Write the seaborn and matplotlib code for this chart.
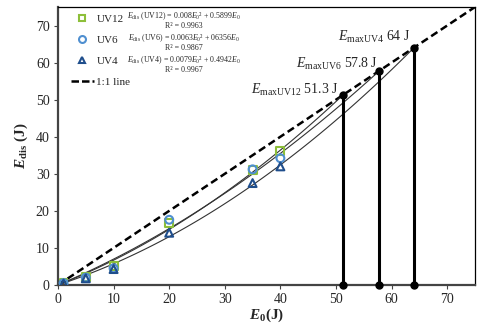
import numpy as np
import pandas as pd
import matplotlib
matplotlib.use("Agg")
import matplotlib.pyplot as plt
import seaborn as sns
from matplotlib.lines import Line2D

# ---- data ----
e0 = [1, 5, 10, 20, 35, 40]
uv12 = [0.6, 2.2, 5.1, 16.7, 31.0, 36.2]
uv6 = [0.5, 2.0, 4.5, 17.6, 31.2, 34.2]
uv4 = [0.4, 1.8, 4.3, 14.1, 27.5, 32.0]
series_names = ["UV12", "UV6", "UV4"]
# quadratic fit coefficients (a, b): Edis = a*E0^2 + b*E0
fit_a = [0.008, 0.0063, 0.0079]
fit_b = [0.5899, 0.6356, 0.4942]
emax = [51.3, 57.8, 64.0]
emax_labels = ["51.3 J", "57.8 J", "64 J"]
eq_texts = [
    r"$E_{\rm dis}$ (UV12) = 0.008$E_0$² + 0.5899$E_0$",
    r"$E_{\rm dis}$ (UV6) = 0.0063$E_0$² + 06356$E_0$",
    r"$E_{\rm dis}$ (UV4) = 0.0079$E_0$² + 0.4942$E_0$",
]
r2_texts = ["R² = 0.9963", "R² = 0.9867", "R² = 0.9967"]
xticks = [0, 10, 20, 30, 40, 50, 60, 70]
yticks = [0, 10, 20, 30, 40, 50, 60, 70]

colors = ["#8DBF3A", "#4F8FD0", "#1F4E8C"]
markers = ["s", "o", "^"]

sns.set_theme(style="white")
plt.rcParams["font.family"] = ["Liberation Serif", "DejaVu Serif"]
plt.rcParams["mathtext.fontset"] = "custom"
plt.rcParams["mathtext.rm"] = "Liberation Serif"
plt.rcParams["mathtext.it"] = "Liberation Serif:italic"
plt.rcParams["mathtext.bf"] = "Liberation Serif:bold"
plt.rcParams["mathtext.bfit"] = "Liberation Serif:italic:bold"

fig = plt.figure(figsize=(4.86, 3.28), dpi=100)
ax = fig.add_axes([58/486, 1-285/328, (475-58)/486, (285-7)/328])

# 1:1 line
ax.plot([0, 75], [0, 75], color="black", lw=1.8, ls=(0, (3, 1.6)), zorder=2)

# fit curves
for a, b, em in zip(fit_a, fit_b, emax):
    xs = np.linspace(0, em, 100)
    sns.lineplot(x=xs, y=a*xs**2 + b*xs, ax=ax, color="#333333", lw=0.8, zorder=3)

# vertical lines at Emax
for em, lab in zip(emax, emax_labels):
    ax.plot([em, em], [0, em], color="black", lw=2.2, zorder=4)
    ax.plot([em, em], [0, em], ls="none", marker="o", color="black", ms=5, zorder=5, clip_on=False)

# data points
vals = [uv12, uv6, uv4]
for name, v, c, m in zip(series_names, vals, colors, markers):
    df = pd.DataFrame({"E0": e0, "Edis": v})
    sns.scatterplot(data=df, x="E0", y="Edis", ax=ax, marker=m, s=32,
                    facecolors="none", edgecolor=c, linewidth=1.5, zorder=6)

# annotations
ann_pos = [(50.4, 52.7), (57.6, 59.6), (63.4, 66.8)]
for (tx, ty), lab, name in zip(ann_pos, emax_labels, series_names):
    ax.text(tx, ty, r"$E_{\rm max" + name + r"}$ " + lab, ha="right", va="center",
            fontsize=10, zorder=7)

ax.set_xlim(0, 75)
ax.set_ylim(0, 75)
ax.set_xticks(xticks)
ax.set_yticks(yticks)
ax.tick_params(axis="both", direction="out", length=3, width=0.8, color="#444444",
               labelsize=10, pad=3, bottom=True, left=True)
for s in ["left", "bottom"]:
    ax.spines[s].set_linewidth(1.6)
    ax.spines[s].set_color("#444444")
for s in ["top", "right"]:
    ax.spines[s].set_linewidth(0.9)
    ax.spines[s].set_color("black")

ax.set_xlabel(r"$\mathbfit{E}_{\mathbf{0}}$(J)", fontsize=11, fontweight="bold", labelpad=0)
ax.set_ylabel(r"$\mathbfit{E}_{\mathbf{dis}}$ (J)", fontsize=11, fontweight="bold", labelpad=4)

# legend
handles = [Line2D([], [], ls="none", marker=m, mfc="none", mec=c, mew=1.5, ms=5)
           for c, m in zip(colors, markers)]
handles.append(Line2D([], [], color="black", lw=1.8, ls=(0, (3, 1.2))))
ax.legend(handles, series_names + ["1:1 line"], loc="upper left",
          bbox_to_anchor=(0.008, 1.01), frameon=False, fontsize=8,
          labelspacing=1.0, handlelength=2.0, handletextpad=0.25)

# equations
eq_y = [(16, 26), (38, 48), (60, 70)]
for eq, r2, (y1, y2) in zip(eq_texts, r2_texts, eq_y):
    fig.text(184/486, 1 - y1/328, eq, ha="center", va="center", fontsize=5.7)
    fig.text(184/486, 1 - y2/328, r2, ha="center", va="center", fontsize=5.7)

fig.savefig("out.png", dpi=100)
